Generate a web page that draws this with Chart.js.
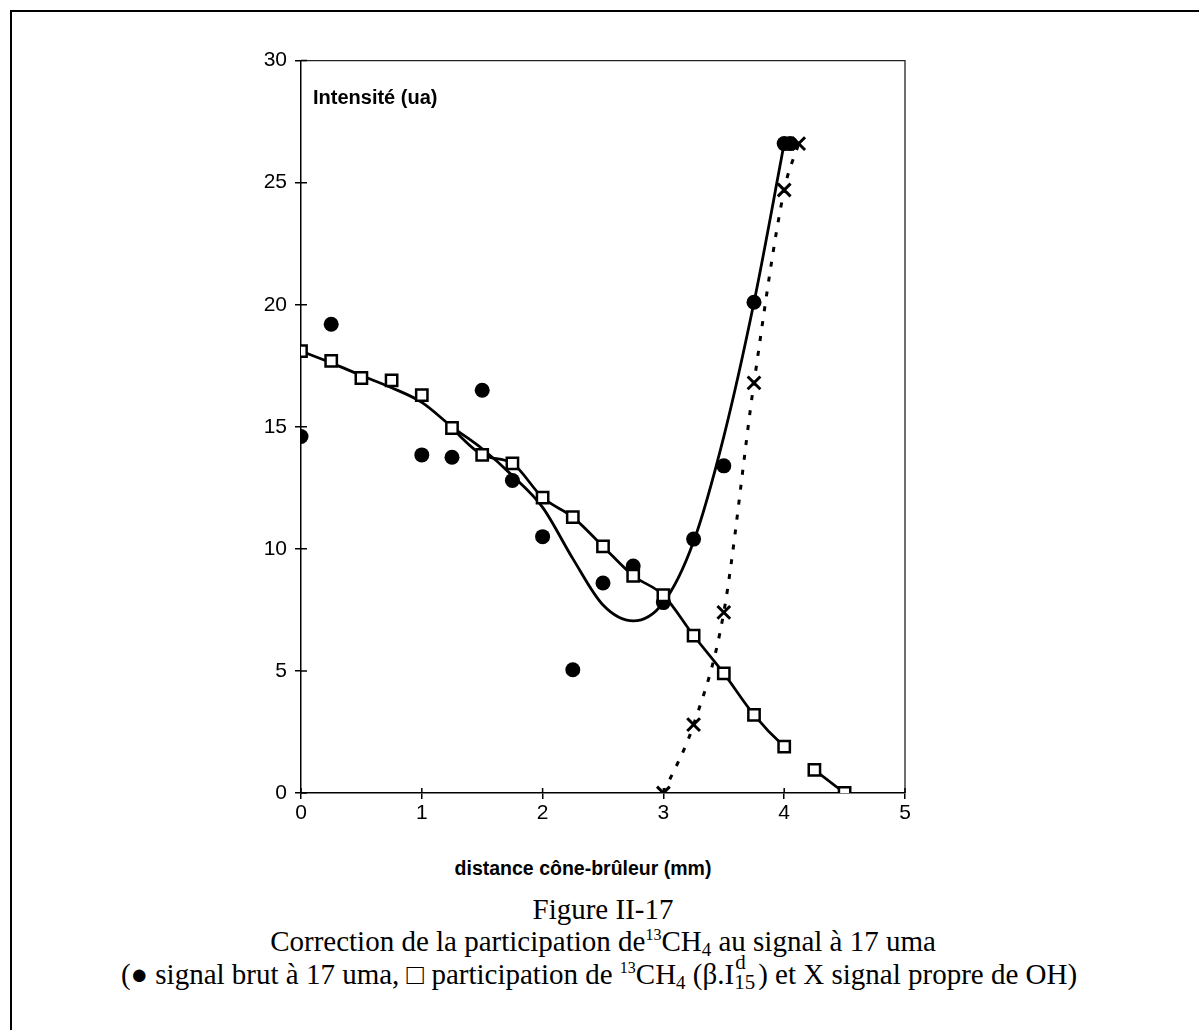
<!DOCTYPE html>
<html><head><meta charset="utf-8">
<script src="https://cdn.jsdelivr.net/npm/chart.js@4/dist/chart.umd.min.js"></script>
<style>
html,body{margin:0;padding:0;background:#fff;}
body{width:1199px;height:1030px;position:relative;overflow:hidden;font-family:"Liberation Sans",Arial,sans-serif;color:#000;}
#frame{position:absolute;left:10px;top:10px;width:1220px;height:1060px;border-left:2px solid #000;border-top:2px solid #000;}
#wrap{position:absolute;left:200px;top:40px;width:720px;height:800px;}
.ytitle{position:absolute;left:313px;top:87px;font:bold 20px/20px "Liberation Sans",Arial,sans-serif;white-space:nowrap;}
.xtitle{position:absolute;left:383px;width:400px;text-align:center;top:858px;font:bold 19.5px/20px "Liberation Sans",Arial,sans-serif;white-space:nowrap;}
.cap{position:absolute;left:0;width:1206px;text-align:center;font-family:"Liberation Serif","Times New Roman",serif;font-size:29px;line-height:33px;white-space:nowrap;}
.cap sup{font-size:16px;vertical-align:11px;line-height:0;}
.cap sub{font-size:19px;vertical-align:-5px;line-height:0;}
.stack{display:inline-block;position:relative;width:24px;height:10px;}
.stack .u{position:absolute;left:1px;top:-22px;font-size:21px;line-height:21px;}
.stack .d{position:absolute;left:0;top:-2px;font-size:21px;line-height:21px;}
</style></head>
<body>
<div id="frame"></div>
<div id="wrap"><canvas id="c"></canvas></div>
<div class="ytitle">Intensité (ua)</div>
<div class="xtitle">distance cône-brûleur (mm)</div>
<div class="cap" style="top:893px;">Figure II-17</div>
<div class="cap" style="top:925px;">Correction de la participation de<sup>13</sup>CH<sub>4</sub> au signal à 17 uma</div>
<div class="cap" style="top:958px;left:-4px;">(● signal brut à 17 uma, □ participation de <sup>13</sup>CH<sub>4</sub> (β.I<span class="stack"><span class="u">d</span><span class="d">15</span></span>) et X signal propre de OH)</div>
<script>
// Signal brut à 17 uma (filled circles)
const xCircles = [0, 0.25, 1, 1.25, 1.5, 1.75, 2, 2.25, 2.5, 2.75, 3, 3.25, 3.5, 3.75, 4, 4.05];
const yCircles = [14.6, 19.2, 13.85, 13.75, 16.5, 12.8, 10.5, 5.05, 8.6, 9.3, 7.8, 10.4, 13.4, 20.1, 26.6, 26.6];
// Participation de 13CH4 (open squares)
const xSquares = [0, 0.25, 0.5, 0.75, 1, 1.25, 1.5, 1.75, 2, 2.25, 2.5, 2.75, 3, 3.25, 3.5, 3.75, 4, 4.25, 4.5];
const ySquares = [18.1, 17.7, 17.0, 16.9, 16.3, 14.95, 13.85, 13.5, 12.1, 11.3, 10.1, 8.9, 8.1, 6.45, 4.9, 3.2, 1.9, 0.95, 0];
// Signal propre de OH (crosses)
const xCross = [3, 3.25, 3.5, 3.75, 4, 4.12];
const yCross = [0, 2.8, 7.4, 16.8, 24.7, 26.6];
// Trend curve through the raw signal
const xFit = [0, 0.25, 0.5, 0.75, 1, 1.25, 1.5, 1.75, 2, 2.25, 2.5, 2.75, 3, 3.25, 3.5, 3.75, 4];
const yFit = [18.1, 17.62, 17.1, 16.6, 16.0, 15.0, 14.1, 13.0, 11.7, 9.6, 7.7, 7.05, 7.8, 10.3, 14.6, 20.1, 26.6];
// Axis ticks
const xTicks = [0, 1, 2, 3, 4, 5];
const yTicks = [0, 5, 10, 15, 20, 25, 30];

const pts = (xs, ys) => xs.map((x, i) => ({x, y: ys[i]}));
const FONT = '"Liberation Sans", Arial, sans-serif';
Chart.defaults.font.family = FONT;

const boxPlugin = {
  id: 'box',
  beforeDatasetsDraw(chart) {
    const {ctx, chartArea: a, scales: {x, y}} = chart;
    ctx.save();
    ctx.strokeStyle = '#222';
    ctx.lineWidth = 1.3;
    ctx.beginPath();
    ctx.moveTo(a.left, a.top); ctx.lineTo(a.right, a.top); ctx.lineTo(a.right, a.bottom);
    ctx.stroke();
    ctx.strokeStyle = '#000';
    ctx.lineWidth = 1.5;
    ctx.beginPath();
    y.ticks.forEach(t => { const p = y.getPixelForValue(t.value); ctx.moveTo(a.left, p); ctx.lineTo(a.left + 6, p); });
    x.ticks.forEach(t => { const p = x.getPixelForValue(t.value); ctx.moveTo(p, a.bottom); ctx.lineTo(p, a.bottom - 5); });
    ctx.stroke();
    ctx.restore();
  }
};

const hidden = 'rgba(0,0,0,0)';
new Chart(document.getElementById('c'), {
  type: 'scatter',
  data: {
    datasets: [
      {
        label: 'participation 13CH4',
        data: pts(xSquares, ySquares),
        showLine: true,
        cubicInterpolationMode: 'monotone',
        borderColor: '#000',
        borderWidth: 2.7,
        pointStyle: 'rect',
        pointRadius: 8,
        pointBackgroundColor: '#fff',
        pointBorderColor: '#000',
        pointBorderWidth: 2.5,
        segment: {
          borderColor: c => {
            const a = c.p0.parsed.x, b = c.p1.parsed.x;
            if (b <= 1.25) return hidden;           // covered by the common trend curve
            if (a > 3.9 && a < 4.1 && b > 4.1) return hidden; // gap between 4 and 4.25
            return '#000';
          }
        },
        order: 0
      },
      {
        label: 'signal brut',
        data: pts(xCircles, yCircles),
        showLine: false,
        pointStyle: 'circle',
        pointRadius: 7.5,
        pointBackgroundColor: '#000',
        pointBorderColor: '#000',
        pointBorderWidth: 0,
        order: 1
      },
      {
        label: 'signal OH',
        data: pts(xCross, yCross),
        showLine: true,
        cubicInterpolationMode: 'monotone',
        borderColor: '#000',
        borderWidth: 3,
        borderDash: [5, 10],
        pointStyle: 'crossRot',
        pointRadius: 9,
        pointBorderColor: '#000',
        pointBorderWidth: 3,
        order: 2
      },
      {
        label: 'tendance signal brut',
        data: pts(xFit, yFit),
        showLine: true,
        cubicInterpolationMode: 'monotone',
        borderColor: '#000',
        borderWidth: 2.8,
        pointRadius: 0,
        order: 3
      }
    ]
  },
  options: {
    responsive: true,
    maintainAspectRatio: false,
    animation: false,
    events: [],
    layout: { padding: { left: 0, top: 19, right: 15, bottom: 0 } },
    plugins: { legend: { display: false }, tooltip: { enabled: false } },
    scales: {
      x: {
        type: 'linear', min: 0, max: 5,
        afterBuildTicks: s => { s.ticks = xTicks.map(v => ({value: v})); },
        ticks: { color: '#000', font: { size: 21 }, padding: 2, maxRotation: 0 },
        grid: { drawOnChartArea: false, color: '#000', lineWidth: 1.5, tickLength: 6 },
        border: { color: '#000', width: 1.5 },
        afterFit: s => { s.height = 47; }
      },
      y: {
        type: 'linear', min: 0, max: 30,
        afterBuildTicks: s => { s.ticks = yTicks.map(v => ({value: v})); },
        ticks: { color: '#000', font: { size: 21 }, padding: 8 },
        grid: { drawOnChartArea: false, color: '#000', lineWidth: 1.5, tickLength: 6 },
        border: { color: '#000', width: 1.5 },
        afterFit: s => { s.width = 101; }
      }
    }
  },
  plugins: [boxPlugin]
});
</script>
</body></html>
